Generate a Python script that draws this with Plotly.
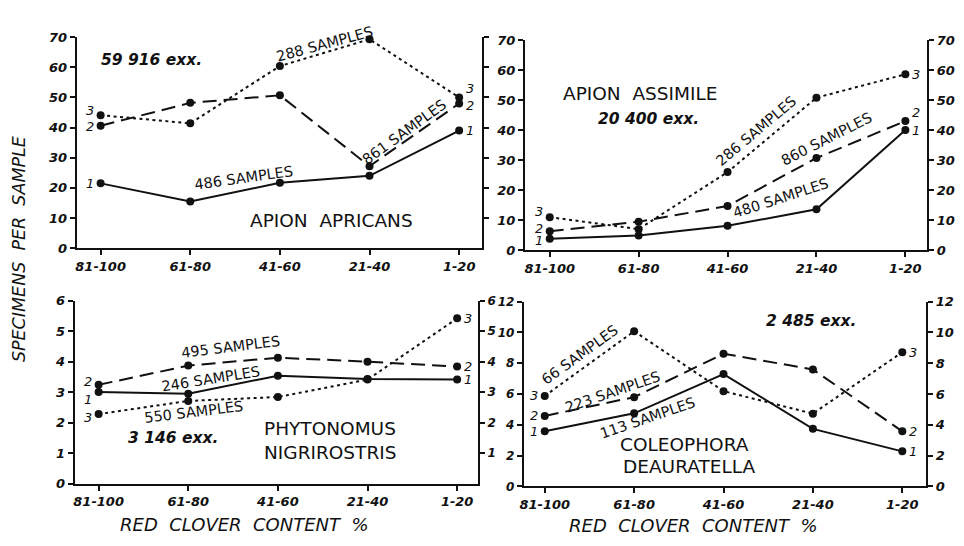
import plotly.graph_objects as go

# ---------------- data ----------------
categories = ["81-100", "61-80", "41-60", "21-40", "1-20"]

apricans_1 = [21.5, 15.5, 21.7, 24.0, 39.0]
apricans_2 = [40.6, 48.2, 50.7, 27.2, 48.0]
apricans_3 = [44.1, 41.4, 60.4, 69.3, 50.0]

assimile_1 = [3.8, 4.9, 8.1, 13.6, 40.0]
assimile_2 = [6.3, 9.5, 14.7, 30.7, 43.0]
assimile_3 = [11.0, 7.0, 26.0, 50.8, 58.6]

phyto_1 = [3.0, 2.95, 3.54, 3.43, 3.41]
phyto_2 = [3.24, 3.87, 4.13, 4.0, 3.84]
phyto_3 = [2.28, 2.71, 2.84, 3.41, 5.42]

coleo_1 = [3.58, 4.75, 7.3, 3.74, 2.28]
coleo_2 = [4.58, 5.8, 8.62, 7.6, 3.58]
coleo_3 = [5.88, 10.08, 6.19, 4.73, 8.72]

ticks_70 = [0, 10, 20, 30, 40, 50, 60, 70]
ticks_6 = [0, 1, 2, 3, 4, 5, 6]
ticks_12 = [0, 2, 4, 6, 8, 10, 12]

W, H = 964, 546
INK = "#111111"
FONT = "DejaVu Sans"


def px_x(a, b):
    return [a / W, b / W]


def px_y(top, bottom):
    return [1 - bottom / H, 1 - top / H]


panels = [
    dict(series=[apricans_1, apricans_2, apricans_3], xd=(73, 480), yd=(31, 248),
         xr=[-0.267, 4.255], yr=[0, 70], lt=ticks_70, rt=ticks_70[1:], rlab=False,
         lfs=13, rfs=13),
    dict(series=[assimile_1, assimile_2, assimile_3], xd=(523, 927), yd=(34, 250),
         xr=[-0.28, 4.245], yr=[0, 70], lt=ticks_70, rt=ticks_70, rlab=True,
         lfs=13, rfs=13),
    dict(series=[phyto_1, phyto_2, phyto_3], xd=(71, 476), yd=(302, 490),
         xr=[-0.267, 4.233], yr=[0, 6], lt=ticks_6, rt=ticks_6[1:], rlab=True,
         lfs=13, rfs=12),
    dict(series=[coleo_1, coleo_2, coleo_3], xd=(522, 926), yd=(303, 493),
         xr=[-0.234, 4.267], yr=[0, 12], lt=ticks_12, rt=ticks_12, rlab=True,
         lfs=12, rfs=13),
]

dashes = ["solid", "14px,7px", "3px,3.5px"]

# vertical nudges (px) of the series-number labels so stacked ones don't collide
label_nudge = {(0, 2, 0): 5, (0, 1, 0): -1, (0, 2, 4): 9, (0, 1, 4): -2,
               (1, 2, 0): 6, (1, 1, 0): 3, (1, 0, 0): -2, (1, 1, 4): 9,
               (2, 1, 0): 3, (2, 0, 0): -7, (2, 2, 0): -3}


def tickfont(size=13):
    return dict(family=FONT, size=size, color=INK, style="italic", weight="bold")


fig = go.Figure()
layout = dict(
    width=W, height=H, margin=dict(l=0, r=0, t=0, b=0),
    paper_bgcolor="white", plot_bgcolor="white", showlegend=False,
)

for i, p in enumerate(panels):
    n = i + 1
    xa = "x" if n == 1 else f"x{n}"
    ya = "y" if n == 1 else f"y{n}"
    yr_name = f"y{n + 4}"
    for s, dash in zip(p["series"], dashes):
        fig.add_trace(go.Scatter(
            x=categories, y=s, xaxis=xa, yaxis=ya, mode="lines+markers",
            line=dict(color=INK, width=2, dash=dash),
            marker=dict(color=INK, size=8), hoverinfo="skip", cliponaxis=False,
        ))
    fig.add_trace(go.Scatter(x=[categories[0]], y=[None], xaxis=xa, yaxis=yr_name,
                             mode="markers", hoverinfo="skip"))
    layout[f"xaxis{'' if n == 1 else n}"] = dict(
        domain=px_x(*p["xd"]), anchor=ya, type="category", range=p["xr"],
        showline=True, linecolor=INK, linewidth=2, ticks="outside", ticklen=5,
        tickwidth=1.5, tickcolor=INK, tickfont=tickfont(13), showgrid=False, zeroline=False,
    )
    layout[f"yaxis{'' if n == 1 else n}"] = dict(
        domain=px_y(*p["yd"]), anchor=xa, range=p["yr"], tickvals=p["lt"],
        showline=True, linecolor=INK, linewidth=2, ticks="outside", ticklen=5,
        tickwidth=1.5, tickcolor=INK, tickfont=tickfont(p["lfs"]), showgrid=False,
        zeroline=False,
    )
    layout[f"yaxis{n + 4}"] = dict(
        overlaying=ya, side="right", anchor=xa, range=p["yr"], tickvals=p["rt"],
        showticklabels=p["rlab"],
        showline=True, linecolor=INK, linewidth=2, ticks="outside", ticklen=5,
        tickwidth=1.5, tickcolor=INK, tickfont=tickfont(p["rfs"]), showgrid=False,
        zeroline=False,
    )

fig.update_layout(**layout)

ann = []


def paper_text(x, y, text, size=13, angle=0, italic=False, bold=False):
    ann.append(dict(
        x=x / W, y=1 - y / H, xref="paper", yref="paper", text=text, showarrow=False,
        textangle=angle, xanchor="center", yanchor="middle",
        font=dict(family=FONT, size=size, color=INK,
                  style="italic" if italic else "normal",
                  weight="bold" if bold else "normal"),
    ))


S = 14.5
# sample counts along lines
paper_text(322, 38, "288 SAMPLES", S, -15)
paper_text(240, 176, "486 SAMPLES", S, -8)
paper_text(402, 129, "861 SAMPLES", S, -36)
paper_text(755, 127, "286 SAMPLES", S, -40)
paper_text(826, 136, "860 SAMPLES", S, -27)
paper_text(780, 196, "480 SAMPLES", S, -18)
paper_text(227, 350, "495 SAMPLES", S, -7)
paper_text(207, 382, "246 SAMPLES", S, -9)
paper_text(190, 416, "550 SAMPLES", S, -7)
paper_text(578, 358, "66 SAMPLES", S, -36)
paper_text(611, 396, "223 SAMPLES", S, -19)
paper_text(646, 423, "113 SAMPLES", S, -19)

# totals
E = 15.5
paper_text(148, 54, "59 916 exx.", E, 0, italic=True, bold=True)
paper_text(647, 115, "20 400 exx.", E, 0, italic=True, bold=True)
paper_text(170, 443, "3 146 exx.", E, 0, italic=True, bold=True)
paper_text(810, 323, "2 485 exx.", E, 0, italic=True, bold=True)

# species names
N = 18.5
paper_text(329, 220, "APION\u00a0 APRICANS", N)
paper_text(639, 89, "APION\u00a0 ASSIMILE", N)
paper_text(327, 433, "PHYTONOMUS", N)
paper_text(327, 458, "NIGRIROSTRIS", N)
paper_text(683, 450, "COLEOPHORA", N)
paper_text(688, 472, "DEAURATELLA", N)

# axis titles
paper_text(15, 248, "SPECIMENS\u00a0 PER\u00a0 SAMPLE", 17.5, -90, italic=True)
paper_text(242, 532, "RED\u00a0 CLOVER\u00a0 CONTENT\u00a0 %", 18, 0, italic=True)
paper_text(692, 533, "RED\u00a0 CLOVER\u00a0 CONTENT\u00a0 %", 18, 0, italic=True)

# series numbers next to end points
for i, p in enumerate(panels):
    n = i + 1
    xa = "x" if n == 1 else f"x{n}"
    ya = "y" if n == 1 else f"y{n}"
    for k, s in enumerate(p["series"]):
        for idx, shift in ((0, -11), (4, 11)):
            ann.append(dict(
                x=categories[idx], y=s[idx], xref=xa, yref=ya, text=str(k + 1),
                showarrow=False, xshift=shift, yshift=label_nudge.get((i, k, idx), 0),
                xanchor="center", yanchor="middle",
                font=dict(family=FONT, size=13, color=INK, style="italic"),
            ))

fig.update_layout(annotations=ann)
fig.write_html("out.html")
